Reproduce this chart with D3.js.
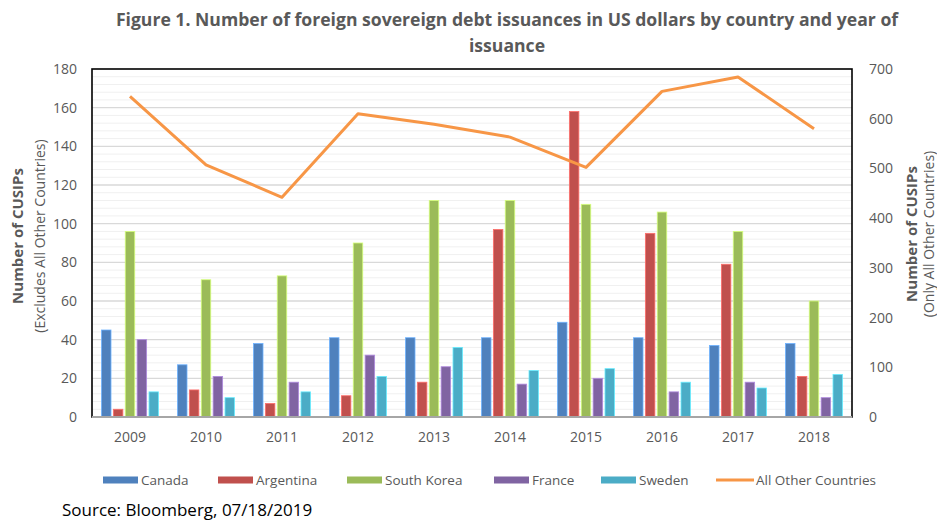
<!DOCTYPE html>
<html>
<head>
<meta charset="utf-8">
<script src="https://cdn.jsdelivr.net/npm/d3@7"></script>
<style>
  body { margin: 0; background: #fff; }
  text { font-family: "Open Sans", "Noto Sans", sans-serif; }
</style>
</head>
<body>
<div id="chart"></div>
<script>
const years = ["2009", "2010", "2011", "2012", "2013", "2014", "2015", "2016", "2017", "2018"];
const seriesNames = ["Canada", "Argentina", "South Korea", "France", "Sweden"];
const canada    = [45, 27, 38, 41, 41, 41, 49, 41, 37, 38];
const argentina = [4, 14, 7, 11, 18, 97, 158, 95, 79, 21];
const southKorea = [96, 71, 73, 90, 112, 112, 110, 106, 96, 60];
const france    = [40, 21, 18, 32, 26, 17, 20, 13, 18, 10];
const sweden    = [13, 10, 13, 21, 36, 24, 25, 18, 15, 22];
const allOther  = [645, 507, 442, 610, 589, 563, 502, 655, 684, 580];
const leftTicks = [0, 20, 40, 60, 80, 100, 120, 140, 160, 180];
const rightTicks = [0, 100, 200, 300, 400, 500, 600, 700];

const barSeries = [canada, argentina, southKorea, france, sweden];
const colors = ["#4F81BD", "#C0504D", "#9BBB59", "#8064A2", "#4BACC6"];
const lineColor = "#F79646";

const W = 937, H = 521;
const plot = { left: 92, right: 852, top: 69, bottom: 417 };

const svg = d3.select("#chart").append("svg")
  .attr("width", W)
  .attr("height", H);

// title
svg.append("text")
  .attr("x", 507).attr("y", 26)
  .attr("text-anchor", "middle")
  .style("font-size", "17.6px").style("font-weight", "bold").style("fill", "#595959")
  .text("Figure 1. Number of foreign sovereign debt issuances in US dollars by country and year of");
svg.append("text")
  .attr("x", 507).attr("y", 52)
  .attr("text-anchor", "middle")
  .style("font-size", "17.6px").style("font-weight", "bold").style("fill", "#595959")
  .text("issuance");

const x0 = d3.scaleBand().domain(years).range([plot.left, plot.right]);
const x1 = d3.scaleBand().domain(seriesNames).range([9.5, 66.5]).paddingInner(0.2);
const yL = d3.scaleLinear().domain([0, 180]).range([plot.bottom, plot.top]);
const yR = d3.scaleLinear().domain([0, 700]).range([plot.bottom, plot.top]);

// minor grid (every 4) and major grid (every 20)
svg.append("g")
  .selectAll("line")
  .data(d3.range(4, 180, 4).filter(v => v % 20 !== 0))
  .join("line")
  .attr("x1", plot.left).attr("x2", plot.right)
  .attr("y1", d => yL(d)).attr("y2", d => yL(d))
  .attr("stroke", "#f0f0f0").attr("stroke-width", 1);

svg.append("g")
  .selectAll("line")
  .data(leftTicks.slice(1, -1))
  .join("line")
  .attr("x1", plot.left).attr("x2", plot.right)
  .attr("y1", d => yL(d)).attr("y2", d => yL(d))
  .attr("stroke", "#d9d9d9").attr("stroke-width", 1.3);

// bars
barSeries.forEach((vals, i) => {
  svg.append("g")
    .selectAll("rect")
    .data(vals)
    .join("rect")
    .attr("x", (d, j) => x0(years[j]) + x1(seriesNames[i]))
    .attr("y", d => yL(d))
    .attr("width", x1.bandwidth())
    .attr("height", d => plot.bottom - yL(d))
    .attr("fill", colors[i])
    .attr("stroke", d3.color(colors[i]).brighter(0.9))
    .attr("stroke-width", 0.8);
});

// plot border
svg.append("rect")
  .attr("x", plot.left).attr("y", plot.top)
  .attr("width", plot.right - plot.left).attr("height", plot.bottom - plot.top)
  .attr("fill", "none").attr("stroke", "#000").attr("stroke-width", 1.6);

// x axis line
svg.append("line")
  .attr("x1", plot.left).attr("x2", plot.right)
  .attr("y1", plot.bottom).attr("y2", plot.bottom)
  .attr("stroke", "#a6a6a6").attr("stroke-width", 2);

// line
const line = d3.line()
  .x((d, j) => x0(years[j]) + x0.bandwidth() / 2)
  .y(d => yR(d));

svg.append("path")
  .datum(allOther)
  .attr("fill", "none")
  .attr("stroke", lineColor)
  .attr("stroke-width", 3)
  .attr("stroke-linejoin", "round")
  .attr("d", line);

// axes
svg.append("g")
  .attr("transform", `translate(${plot.left - 12},0)`)
  .call(d3.axisLeft(yL).tickValues(leftTicks).tickSize(0))
  .call(g => g.select(".domain").remove())
  .call(g => g.selectAll("text").style("font-size", "14px").style("fill", "#595959")
    .style("font-family", "'Open Sans', sans-serif"));

svg.append("g")
  .attr("transform", `translate(${plot.right + 14},0)`)
  .call(d3.axisRight(yR).tickValues(rightTicks).tickSize(0))
  .call(g => g.select(".domain").remove())
  .call(g => g.selectAll("text").style("font-size", "14px").style("fill", "#595959")
    .style("font-family", "'Open Sans', sans-serif"));

svg.append("g")
  .attr("transform", `translate(0,${plot.bottom + 12})`)
  .call(d3.axisBottom(x0).tickSize(0))
  .call(g => g.select(".domain").remove())
  .call(g => g.selectAll("text").style("font-size", "14px").style("fill", "#595959")
    .style("font-family", "'Open Sans', sans-serif"));

// axis titles
const leftTitle = svg.append("text")
  .attr("transform", "translate(0,236) rotate(-90)")
  .attr("text-anchor", "middle")
  .style("fill", "#595959");
leftTitle.append("tspan").attr("x", 0).attr("y", 23)
  .style("font-size", "15px").style("font-weight", "bold").text("Number of CUSIPs");
leftTitle.append("tspan").attr("x", 0).attr("y", 45)
  .style("font-size", "14px").text("(Excludes All Other Countries)");

const rightTitle = svg.append("text")
  .attr("transform", "translate(0,234) rotate(-90)")
  .attr("text-anchor", "middle")
  .style("fill", "#595959");
rightTitle.append("tspan").attr("x", 0).attr("y", 917)
  .style("font-size", "15px").style("font-weight", "bold").text("Number of CUSIPs");
rightTitle.append("tspan").attr("x", 0).attr("y", 934)
  .style("font-size", "14px").text("(Only All Other Countries)");

// legend
const legendItems = seriesNames.map((n, i) => ({ name: n, color: colors[i], type: "bar" }))
  .concat([{ name: "All Other Countries", color: lineColor, type: "line" }]);
const legendX = [103, 218, 347, 494, 601, 716];
const legendY = 480;

legendItems.forEach((d, i) => {
  const g = svg.append("g").attr("transform", `translate(${legendX[i]},${legendY})`);
  if (d.type === "bar") {
    g.append("rect").attr("x", 0).attr("y", -3.5).attr("width", 35).attr("height", 7).attr("fill", d.color);
  } else {
    g.append("line").attr("x1", 0).attr("x2", 38).attr("y1", 0).attr("y2", 0)
      .attr("stroke", d.color).attr("stroke-width", 3);
  }
  g.append("text")
    .attr("x", d.type === "bar" ? 38 : 40).attr("y", 0)
    .attr("dy", "0.35em")
    .style("font-size", "13.5px").style("fill", "#595959")
    .text(d.name);
});

// source
svg.append("text")
  .attr("x", 62).attr("y", 516)
  .style("font-size", "17px").style("fill", "#000")
  .text("Source: Bloomberg, 07/18/2019");
</script>
</body>
</html>
